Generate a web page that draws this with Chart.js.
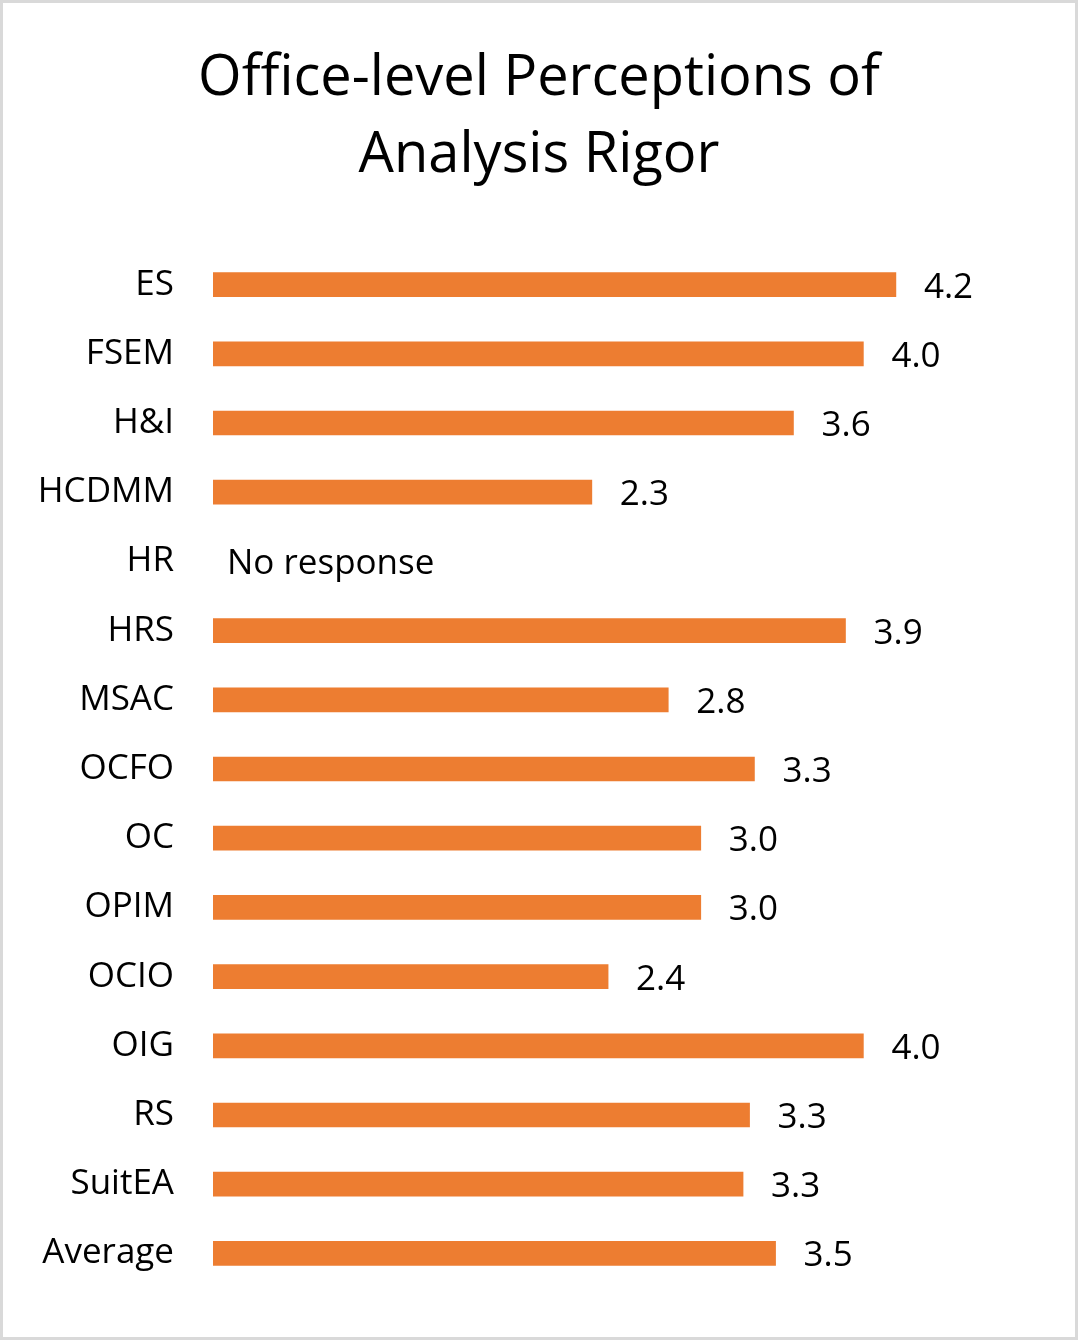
<!DOCTYPE html>
<html lang="en">
<head>
  <meta charset="UTF-8" />
  <title>Office-level Perceptions of Analysis Rigor</title>
  <script src="https://cdn.jsdelivr.net/npm/chart.js"></script>
  <style>
    body {
      margin: 0;
      background: #ffffff;
    }

    .wrap {
      position: relative;
      width: 1078px;
      height: 1340px;
    }

    canvas {
      display: block;
    }
  </style>
</head>
<body>
  <div class="wrap">
    <canvas id="rigorChart" width="1078" height="1340"></canvas>
  </div>

  <script>
    const offices = ["ES", "FSEM", "H&I", "HCDMM", "HR", "HRS", "MSAC", "OCFO", "OC", "OPIM", "OCIO", "OIG", "RS", "SuitEA", "Average"];
    // HR gave no response, so it has no bar
    const rigorScores = [4.2, 4.0, 3.57, 2.33, null, 3.89, 2.8, 3.33, 3.0, 3.0, 2.43, 4.0, 3.3, 3.26, 3.46];
    const titleLines = ["Office-level Perceptions of", "Analysis Rigor"];
    const noResponseText = "No response";

    const fontFamily = "'Open Sans', 'Noto Sans', sans-serif";

    // light grey frame round the whole picture
    const framePlugin = {
      id: "frame",
      beforeDraw(chart) {
        const ctx = chart.ctx;
        ctx.save();
        ctx.fillStyle = "#ffffff";
        ctx.fillRect(0, 0, chart.width, chart.height);
        ctx.strokeStyle = "#d9d9d9";
        ctx.lineWidth = 3;
        ctx.strokeRect(1.5, 1.5, chart.width - 3, chart.height - 3);
        ctx.restore();
      }
    };

    // value labels at the end of each bar
    const valueLabels = {
      id: "valueLabels",
      afterDatasetsDraw(chart) {
        const ctx = chart.ctx;
        const xScale = chart.scales.x;
        const yScale = chart.scales.y;
        ctx.save();
        ctx.font = "35px " + fontFamily;
        ctx.fillStyle = "#000000";
        ctx.textBaseline = "middle";
        ctx.textAlign = "left";
        rigorScores.forEach((v, i) => {
          const y = yScale.getPixelForValue(i) + 3;
          if (v === null) {
            ctx.fillText(noResponseText, xScale.getPixelForValue(0) + 14, y);
          } else {
            ctx.fillText(v.toFixed(1), xScale.getPixelForValue(v) + 28, y);
          }
        });
        ctx.restore();
      }
    };

    new Chart(document.getElementById("rigorChart"), {
      type: "bar",
      data: {
        labels: offices,
        datasets: [{
          data: rigorScores,
          backgroundColor: "#ed7d31",
          borderWidth: 0,
          barThickness: 24
        }]
      },
      plugins: [framePlugin, valueLabels],
      options: {
        indexAxis: "y",
        responsive: false,
        animation: false,
        events: [],
        layout: {
          padding: { left: 0, right: 0, top: 0, bottom: 47 }
        },
        plugins: {
          legend: { display: false },
          tooltip: { enabled: false },
          title: {
            display: true,
            text: titleLines,
            color: "#000000",
            font: { family: fontFamily, size: 56, weight: "normal", lineHeight: 1.375 },
            padding: { top: 41, bottom: 55 }
          }
        },
        scales: {
          x: {
            display: false,
            min: 0,
            max: 5.32
          },
          y: {
            grid: { display: false },
            border: { display: false },
            ticks: {
              color: "#000000",
              padding: 31,
              font: { family: fontFamily, size: 35 }
            },
            afterFit(scale) {
              scale.width = 213;
            }
          }
        }
      }
    });
  </script>
</body>
</html>
